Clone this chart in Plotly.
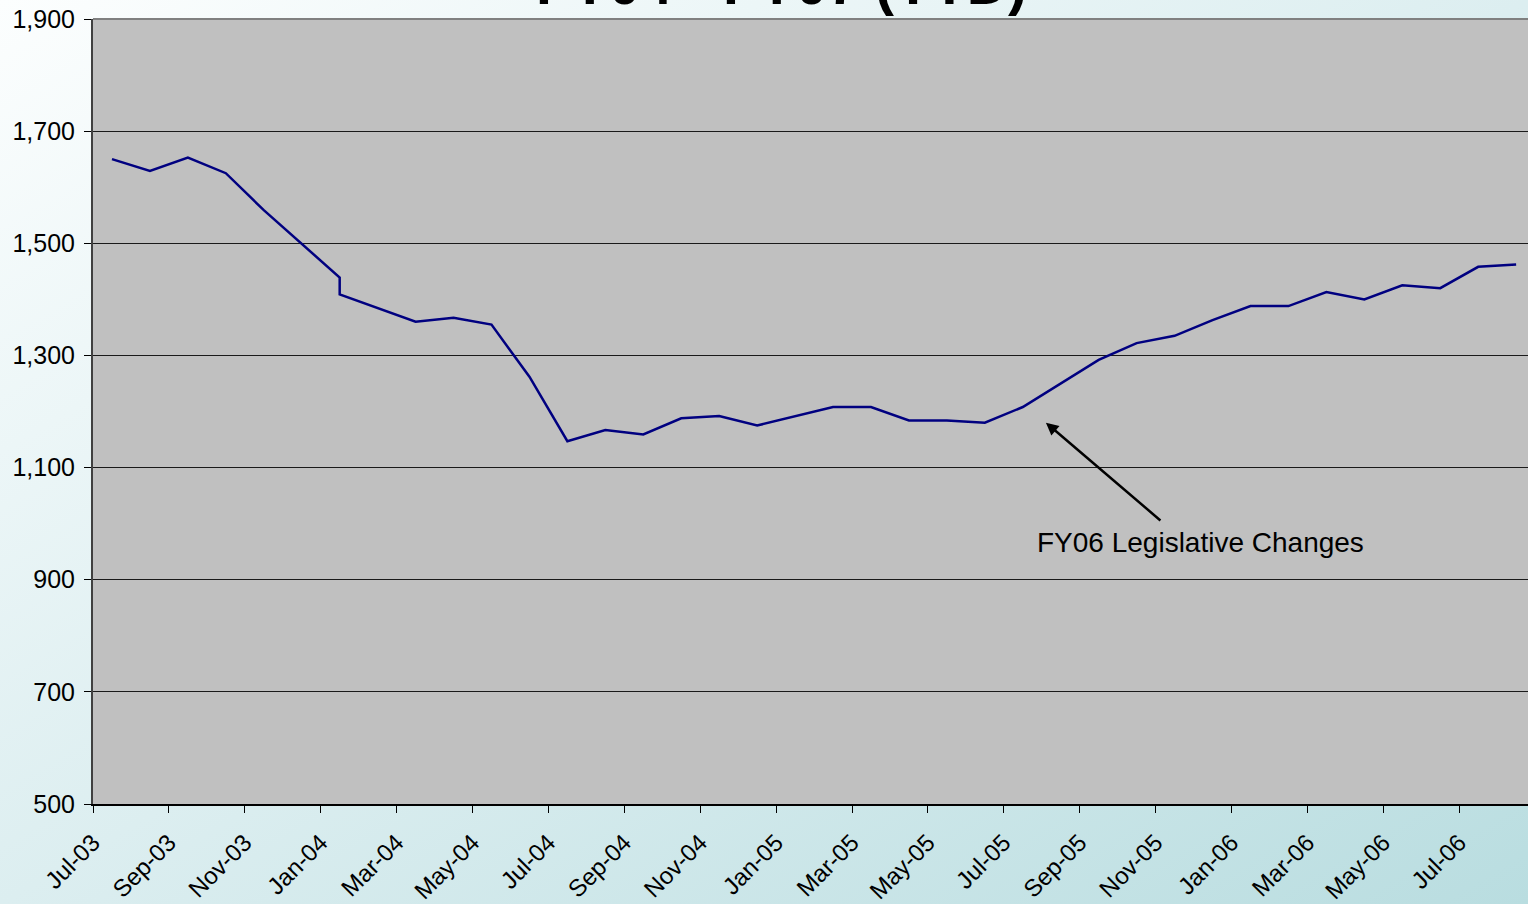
import base64
import pandas as pd
import plotly.graph_objects as go

# ---- data ----
months = ["Jul-03", "Aug-03", "Sep-03", "Oct-03", "Nov-03", "Dec-03", "Jan-04", "Jan-04",
          "Feb-04", "Mar-04", "Apr-04", "May-04", "Jun-04", "Jul-04", "Aug-04", "Sep-04",
          "Oct-04", "Nov-04", "Dec-04", "Jan-05", "Feb-05", "Mar-05", "Apr-05", "May-05",
          "Jun-05", "Jul-05", "Aug-05", "Sep-05", "Oct-05", "Nov-05", "Dec-05", "Jan-06",
          "Feb-06", "Mar-06", "Apr-06", "May-06", "Jun-06", "Jul-06", "Aug-06"]
caseload = [1650, 1629, 1653, 1625, 1559, 1499, 1439, 1409,
            1384, 1360, 1367, 1355, 1262, 1147, 1167, 1159,
            1188, 1192, 1175, 1191, 1208, 1208, 1184, 1184,
            1180, 1208, 1250, 1292, 1322, 1335, 1363, 1388,
            1388, 1413, 1400, 1425, 1420, 1458, 1462]
tick_labels = ["Jul-03", "Sep-03", "Nov-03", "Jan-04", "Mar-04", "May-04", "Jul-04",
               "Sep-04", "Nov-04", "Jan-05", "Mar-05", "May-05", "Jul-05", "Sep-05",
               "Nov-05", "Jan-06", "Mar-06", "May-06", "Jul-06"]
y_ticks = [500, 700, 900, 1100, 1300, 1500, 1700, 1900]
title_text = "FY04 - FY07 (YTD)"
note_text = "FY06 Legislative Changes"

# month index on an evenly spaced monthly axis (Jul-03 = 0)
start = pd.Timestamp("2003-07-01")
def month_index(label):
    d = pd.to_datetime(label, format="%b-%y")
    return (d.year - start.year) * 12 + (d.month - start.month)

x_vals = [month_index(m) + 0.5 for m in months]
tick_vals = [month_index(t) for t in tick_labels]

FONT = "Liberation Sans, Arial, sans-serif"

fig = go.Figure()
fig.add_trace(go.Scatter(x=x_vals, y=caseload, mode="lines",
                         line=dict(color="#000080", width=2.5), showlegend=False,
                         hoverinfo="skip"))

W, H = 1528, 904
ml, mr, mt, mb = 93, 0, 19, 100
pw, ph = W - ml - mr, H - mt - mb

svg = ('<svg xmlns="http://www.w3.org/2000/svg" width="%d" height="%d" preserveAspectRatio="none">'
       '<defs><linearGradient id="g" x1="0" y1="0" x2="1" y2="1">'
       '<stop offset="0" stop-color="#FCFEFE"/><stop offset="0.5" stop-color="#DCEEF0"/>'
       '<stop offset="1" stop-color="#B9DDE0"/></linearGradient></defs>'
       '<rect width="100%%" height="100%%" fill="url(#g)"/></svg>') % (W, H)
uri = "data:image/svg+xml;base64," + base64.b64encode(svg.encode()).decode()

fig.update_layout(
    width=W, height=H,
    margin=dict(l=ml, r=mr, t=mt, b=mb, pad=0),
    paper_bgcolor="#DCEEF0",
    plot_bgcolor="#C0C0C0",
    font=dict(family=FONT, color="black"),
    images=[dict(source=uri, xref="paper", yref="paper",
                 x=-ml / pw, y=1 + mt / ph, sizex=W / pw, sizey=H / ph,
                 sizing="stretch", layer="below", xanchor="left", yanchor="top")],
    xaxis=dict(range=[0, pw / 37.95], tickmode="array", tickvals=tick_vals,
               ticktext=tick_labels, tickangle=-45, ticks="outside", ticklen=7,
               tickcolor="black", tickwidth=1, showgrid=False, zeroline=False,
               showline=True, linecolor="black", linewidth=2, ticklabelstandoff=6,
               tickfont=dict(size=24, family=FONT, color="black")),
    yaxis=dict(range=[500, 1900], tickmode="array", tickvals=y_ticks,
               tickformat=",", ticks="outside", ticklen=7, tickcolor="black",
               showgrid=True, gridcolor="#1a1a1a", gridwidth=1, zeroline=False,
               showline=True, linecolor="#404040", linewidth=2, ticklabelstandoff=4,
               tickfont=dict(size=25, family=FONT, color="black")),
    shapes=[
        dict(type="rect", xref="paper", yref="paper", x0=0, x1=1, y0=0, y1=1,
             fillcolor="#C0C0C0", line=dict(width=0), layer="below"),
        dict(type="line", xref="paper", yref="paper", x0=0, x1=1, y0=1, y1=1,
             line=dict(color="#808080", width=2)),
    ],
    annotations=[
        dict(text="<b>" + title_text + "</b>", xref="paper", yref="paper",
             x=(781 - ml) / pw, y=1, xanchor="center", yanchor="bottom", yshift=1,
             showarrow=False, font=dict(size=57, family=FONT, color="black")),
        dict(text="", x=25.11, y=1180, xref="x", yref="y", showarrow=True,
             ax=116, ay=99, arrowhead=2, arrowsize=1, arrowwidth=2.5,
             arrowcolor="black"),
        dict(text=note_text, x=29.17, y=967, xref="x", yref="y", showarrow=False,
             xanchor="center", yanchor="middle",
             font=dict(size=28, family=FONT, color="black")),
    ],
)

fig.write_html("out.html", config={"displayModeBar": False},
               post_script="document.body.style.margin='0';")
